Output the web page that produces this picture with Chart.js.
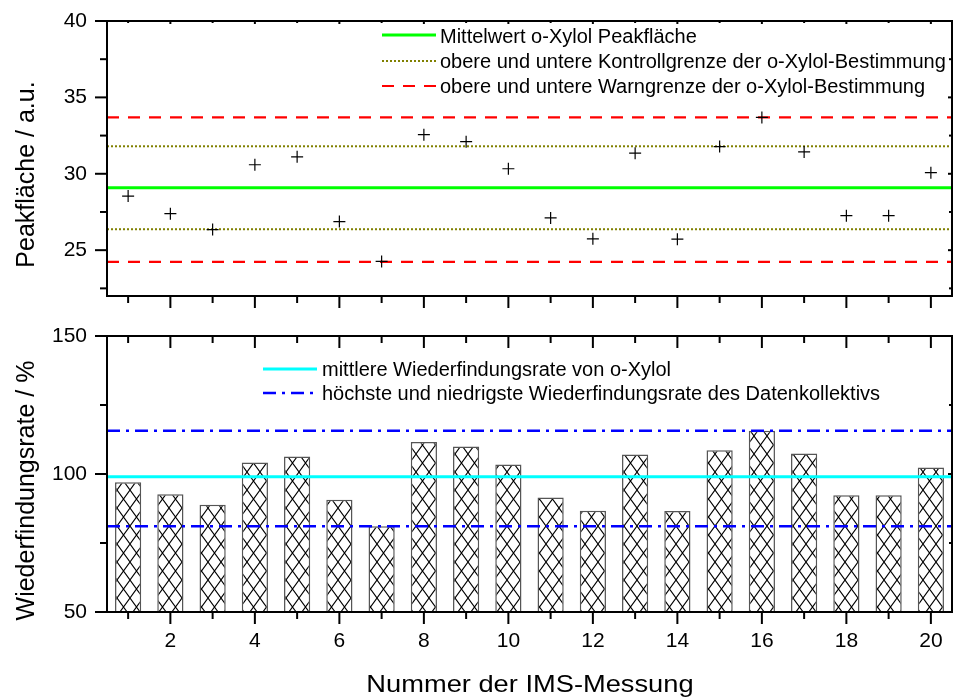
<!DOCTYPE html>
<html lang="de">
<head>
<meta charset="UTF-8">
<title>o-Xylol Kontrollkarte</title>
<style>
    body {
        margin: 0;
        background: #fff;
        font-family: 'Liberation Sans', Arial, sans-serif;
        color: #000;
    }
    .figure {
        position: relative;
        width: 955px;
        height: 697px;
        overflow: hidden;
    }
    .figure canvas { position: absolute; left: 0; }
    #peakChart { top: 0; }
    #recoveryChart { top: 310px; }
    .legend-row {
        position: absolute;
        height: 24px;
        line-height: 24px;
        font-size: 20px;
        white-space: nowrap;
    }
    .legend-row svg { position: absolute; left: 0; top: 0; }
    .axis-title {
        position: absolute;
        white-space: nowrap;
        text-align: center;
    }
    .y-title {
        width: 320px;
        height: 25px;
        font-size: 25px;
        line-height: 25px;
        transform: rotate(-90deg);
    }
    .x-title {
        left: 330px;
        top: 672px;
        width: 400px;
        font-size: 24px;
        line-height: 24px;
        transform: scaleX(1.136);
    }
</style>
<script src="https://cdn.jsdelivr.net/npm/chart.js@4/dist/chart.umd.min.js"></script>
</head>
<body>
<div class="figure">
    <canvas id="peakChart" width="955" height="310"></canvas>
    <canvas id="recoveryChart" width="955" height="387"></canvas>

    <!-- legend, upper panel -->
    <div class="legend-row" style="left:382px; top:24px;">
        <svg width="54" height="24"><line x1="0" y1="11" x2="54" y2="11" stroke="#00ff00" stroke-width="3"/></svg>
        <span style="position:absolute; left:58px;">Mittelwert o-Xylol Peakfläche</span>
    </div>
    <div class="legend-row" style="left:382px; top:49px;">
        <svg width="54" height="24"><line x1="0" y1="12" x2="54" y2="12" stroke="#808000" stroke-width="2" stroke-dasharray="2,2"/></svg>
        <span style="position:absolute; left:58px;">obere und untere Kontrollgrenze der o-Xylol-Bestimmung</span>
    </div>
    <div class="legend-row" style="left:382px; top:74px;">
        <svg width="54" height="24"><line x1="0" y1="12" x2="54" y2="12" stroke="#ff0000" stroke-width="2.2" stroke-dasharray="12,9"/></svg>
        <span style="position:absolute; left:58px;">obere und untere Warngrenze der o-Xylol-Bestimmung</span>
    </div>

    <!-- legend, lower panel -->
    <div class="legend-row" style="left:263px; top:357px;">
        <svg width="54" height="24"><line x1="0" y1="12" x2="54" y2="12" stroke="#00ffff" stroke-width="3"/></svg>
        <span style="position:absolute; left:59px;">mittlere Wiederfindungsrate von o-Xylol</span>
    </div>
    <div class="legend-row" style="left:263px; top:381px;">
        <svg width="54" height="24"><line x1="0" y1="12" x2="54" y2="12" stroke="#0000ff" stroke-width="2.5" stroke-dasharray="13,6,3,6"/></svg>
        <span style="position:absolute; left:59px;">höchste und niedrigste Wiederfindungsrate des Datenkollektivs</span>
    </div>

    <div class="axis-title y-title" style="left:-135px; top:162px;">Peakfläche / a.u.</div>
    <div class="axis-title y-title" style="left:-135px; top:478px;">Wiederfindungsrate / %</div>
    <div class="axis-title x-title">Nummer der IMS-Messung</div>
</div>

<script>
    // Messungen 1..20
    const runs = [1, 2, 3, 4, 5, 6, 7, 8, 9, 10, 11, 12, 13, 14, 15, 16, 17, 18, 19, 20];

    // Peakfläche je Messung (a.u.)
    const peakArea = [28.54, 27.39, 26.35, 30.59, 31.11, 26.87, 24.26, 32.56, 32.10, 30.33,
                      27.11, 25.74, 31.35, 25.72, 31.78, 33.69, 31.43, 27.26, 27.26, 30.07];
    const peakMean = 29.09;
    const controlLimits = [26.37, 31.80];
    const warnLimits = [24.24, 33.69];

    // Wiederfindungsrate je Messung (%)
    const recovery = [97.0, 92.7, 88.9, 104.2, 106.3, 90.7, 81.1, 111.6, 110.0, 103.4,
                      91.5, 86.7, 107.1, 86.6, 108.6, 115.7, 107.4, 92.3, 92.3, 102.4];
    const recoveryMean = 99.0;
    const recoveryRange = [81.1, 115.7];

    // Achsenteilung
    const runTicks = [2, 4, 6, 8, 10, 12, 14, 16, 18, 20];
    const runMinor = [1, 3, 5, 7, 9, 11, 13, 15, 17, 19];
    const peakTicks = [25, 30, 35, 40];
    const peakMinor = [22.5, 27.5, 32.5, 37.5];
    const recoveryTicks = [50, 100, 150];
    const recoveryMinor = [75, 125];

    const xMin = 0.5, xMax = 20.5;

    Chart.defaults.font.family = "'Liberation Sans', Arial, sans-serif";
    Chart.defaults.color = '#000';

    function hLine(value) {
        return [{ x: xMin, y: value }, { x: xMax, y: value }];
    }

    function crossHatch() {
        const c = document.createElement('canvas');
        c.width = 13;
        c.height = 18;
        const g = c.getContext('2d');
        g.fillStyle = '#fff';
        g.fillRect(0, 0, 13, 18);
        g.strokeStyle = '#000';
        g.lineWidth = 1.1;
        g.beginPath();
        g.moveTo(0, 0); g.lineTo(13, 18);
        g.moveTo(13, 0); g.lineTo(0, 18);
        g.stroke();
        return g.createPattern(c, 'repeat');
    }

    // box frame with Origin-style major/minor ticks
    const frameTicks = {
        id: 'frameTicks',
        afterDraw(chart, args, o) {
            const { ctx, chartArea: a, scales: { x, y } } = chart;
            const seg = (x1, y1, x2, y2) => {
                ctx.beginPath(); ctx.moveTo(x1, y1); ctx.lineTo(x2, y2); ctx.stroke();
            };
            ctx.save();
            ctx.strokeStyle = '#000';
            ctx.lineWidth = 2;
            ctx.strokeRect(a.left, a.top, a.right - a.left, a.bottom - a.top);

            runTicks.concat(runMinor).forEach(v => {
                const px = x.getPixelForValue(v);
                const major = runTicks.includes(v);
                seg(px, a.bottom, px, a.bottom + (major ? 12 : 7));
                seg(px, a.top, px, a.top + (major ? o.topMajor : o.topMinor));
            });
            o.yMajor.concat(o.yMinor).forEach(v => {
                const py = y.getPixelForValue(v);
                const major = o.yMajor.includes(v);
                seg(a.left - (major ? 12 : 7), py, a.left, py);
                seg(a.right - (major ? 4 : 3), py, a.right, py);
            });
            ctx.restore();
        }
    };

    function yScale(min, max, ticks) {
        return {
            type: 'linear',
            min: min,
            max: max,
            grid: { display: false, drawTicks: false },
            border: { display: false },
            ticks: { font: { size: 21 }, padding: 20 },
            afterBuildTicks: s => { s.ticks = ticks.map(v => ({ value: v })); },
            afterFit: s => {
                s.width = 107;
                s.paddingTop = 0;
                s.paddingBottom = 0;
            }
        };
    }

    new Chart(document.getElementById('peakChart'), {
        type: 'line',
        data: {
            datasets: [
                {
                    label: 'Peakfläche',
                    data: runs.map((r, i) => ({ x: r, y: peakArea[i] })),
                    showLine: false,
                    pointStyle: 'cross',
                    pointRadius: 6,
                    pointBorderWidth: 1.2,
                    pointBorderColor: '#000',
                    order: 0
                },
                {
                    label: 'Mittelwert',
                    data: hLine(peakMean),
                    borderColor: '#00ff00',
                    borderWidth: 3,
                    pointRadius: 0,
                    order: 1
                },
                ...controlLimits.map(v => ({
                    label: 'Kontrollgrenze',
                    data: hLine(v),
                    borderColor: '#808000',
                    borderWidth: 2,
                    borderDash: [2, 2],
                    pointRadius: 0,
                    order: 1
                })),
                ...warnLimits.map(v => ({
                    label: 'Warngrenze',
                    data: hLine(v),
                    borderColor: '#ff0000',
                    borderWidth: 2.2,
                    borderDash: [12, 9],
                    pointRadius: 0,
                    order: 1
                }))
            ]
        },
        options: {
            responsive: false,
            animation: false,
            devicePixelRatio: 1,
            layout: { autoPadding: false, padding: { top: 21, right: 3, bottom: 14, left: 0 } },
            plugins: {
                legend: { display: false },
                tooltip: { enabled: false },
                frameTicks: { yMajor: peakTicks, yMinor: peakMinor, topMajor: 3, topMinor: 2 }
            },
            scales: {
                x: { type: 'linear', min: xMin, max: xMax, display: false },
                y: yScale(22, 40, peakTicks)
            }
        },
        plugins: [frameTicks]
    });

    new Chart(document.getElementById('recoveryChart'), {
        type: 'bar',
        data: {
            datasets: [
                {
                    label: 'Wiederfindungsrate',
                    data: runs.map((r, i) => ({ x: r, y: recovery[i] })),
                    backgroundColor: crossHatch(),
                    borderColor: '#555',
                    borderWidth: 1.5,
                    base: 50,
                    barPercentage: 0.62,
                    categoryPercentage: 1.0,
                    order: 2
                },
                {
                    type: 'line',
                    label: 'mittlere Wiederfindungsrate',
                    data: hLine(recoveryMean),
                    borderColor: '#00ffff',
                    borderWidth: 3,
                    pointRadius: 0,
                    order: 1
                },
                ...recoveryRange.map(v => ({
                    type: 'line',
                    label: 'Spannweite',
                    data: hLine(v),
                    borderColor: '#0000ff',
                    borderWidth: 2.5,
                    borderDash: [13, 6, 3, 6],
                    pointRadius: 0,
                    order: 1
                }))
            ]
        },
        options: {
            responsive: false,
            animation: false,
            devicePixelRatio: 1,
            layout: { autoPadding: false, padding: { top: 26, right: 3, bottom: 0, left: 0 } },
            plugins: {
                legend: { display: false },
                tooltip: { enabled: false },
                frameTicks: { yMajor: recoveryTicks, yMinor: recoveryMinor, topMajor: 12, topMinor: 7 }
            },
            scales: {
                x: {
                    type: 'linear',
                    min: xMin,
                    max: xMax,
                    offset: false,
                    grid: { display: false, drawTicks: false },
                    border: { display: false },
                    ticks: { font: { size: 21 }, padding: 17, maxRotation: 0, autoSkip: false },
                    afterBuildTicks: s => { s.ticks = runTicks.map(v => ({ value: v })); },
                    afterFit: s => {
                        s.height = 85;
                        s.paddingLeft = 0;
                        s.paddingRight = 0;
                    }
                },
                y: yScale(50, 150, recoveryTicks)
            }
        },
        plugins: [frameTicks]
    });
</script>
</body>
</html>
